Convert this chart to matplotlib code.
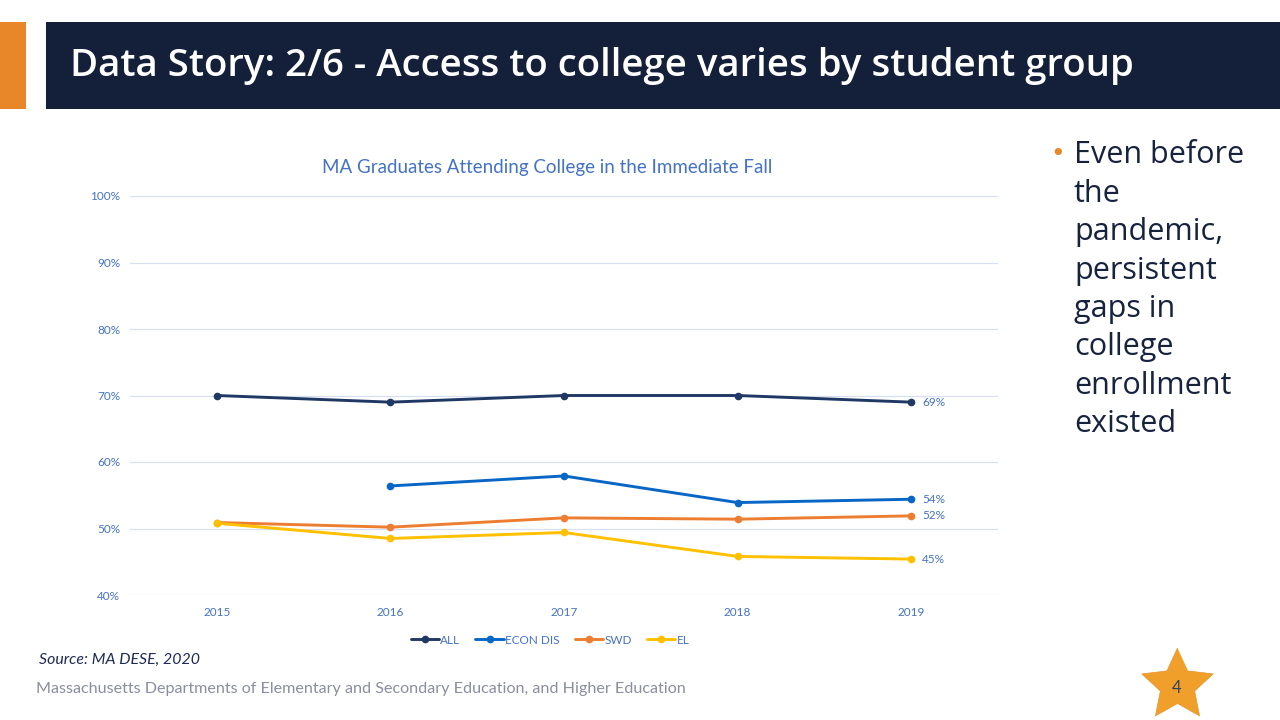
import numpy as np
import matplotlib
matplotlib.use("Agg")
import matplotlib.pyplot as plt
from matplotlib.patches import Rectangle
from matplotlib.lines import Line2D

years = ["2015", "2016", "2017", "2018", "2019"]
series_names = ["ALL", "ECON DIS", "SWD", "EL"]
all_vals = [70.0, 69.0, 70.0, 70.0, 69.0]
econ_vals = [np.nan, 56.4, 57.9, 53.9, 54.4]
swd_vals = [50.9, 50.2, 51.6, 51.4, 51.9]
el_vals = [50.8, 48.5, 49.4, 45.8, 45.4]
end_labels = ["69%", "54%", "52%", "45%"]
y_ticks = [40, 50, 60, 70, 80, 90, 100]

colors = ["#203864", "#0866C6", "#ED7D31", "#FFC000"]
tick_blue = "#4472C4"
grid_col = "#D6E0F0"

plt.rcParams["font.family"] = ["Lato", "DejaVu Sans"]

fig = plt.figure(figsize=(12.8, 7.2), dpi=100)

# header band
fig.add_artist(Rectangle((0, 1 - 109 / 720), 26 / 1280, 87 / 720,
                         transform=fig.transFigure, color="#E8862A", lw=0))
fig.add_artist(Rectangle((46 / 1280, 1 - 109 / 720), 1 - 46 / 1280, 87 / 720,
                         transform=fig.transFigure, color="#141F3A", lw=0))
fig.text(70 / 1280, 1 - 66 / 720, "Data Story: 2/6 - Access to college varies by student group",
         color="white", fontsize=27.6, fontweight="semibold", family="Open Sans",
         va="center", ha="left")

ax = fig.add_axes([130 / 1280, 1 - 595 / 720, (998 - 130) / 1280, (595 - 196) / 720])
x = np.arange(len(years))
for vals, c, name in zip([all_vals, econ_vals, swd_vals, el_vals], colors, series_names):
    ax.plot(x, vals, color=c, lw=2.1, marker="o", markersize=4.5, label=name,
            solid_capstyle="round")

for vals, lab in zip([all_vals, econ_vals, swd_vals, el_vals], end_labels):
    ax.annotate(lab, (x[-1], vals[-1]), xytext=(8, 0), textcoords="offset points",
                va="center", ha="left", fontsize=8.5, color=tick_blue)

ax.set_xlim(-0.5, 4.5)
ax.set_ylim(40, 100)
ax.set_yticks(y_ticks)
ax.set_yticklabels([f"{v}%" for v in y_ticks])
ax.set_xticks(x)
ax.set_xticklabels(years)
ax.tick_params(length=0, labelsize=8.5, labelcolor=tick_blue)
ax.tick_params(axis="y", pad=7)
ax.tick_params(axis="x", pad=9)
ax.grid(axis="y", color=grid_col, lw=0.9)
ax.set_axisbelow(True)
for s in ax.spines.values():
    s.set_visible(False)

fig.text(547 / 1280, 1 - 168 / 720, "MA Graduates Attending College in the Immediate Fall",
         ha="center", va="center", fontsize=13.5, color=tick_blue)

fig.legend(loc="center", bbox_to_anchor=(550 / 1280, 1 - 640 / 720), ncol=4, frameon=False,
           fontsize=8.5, labelcolor=tick_blue, handlelength=2.4, handletextpad=0.1,
           columnspacing=1.3)

# right-side bullet text
fig.text(1050 / 1280, 1 - 154 / 720, "\u2022", color="#E8862A", fontsize=18,
         va="center", ha="left", family="DejaVu Sans")
bullet_lines = ["Even before", "the", "pandemic,", "persistent", "gaps in", "college",
                "enrollment", "existed"]
for i, line in enumerate(bullet_lines):
    fig.text(1074 / 1280, 1 - (155 + i * 38.5) / 720, line, color="#17223D",
             fontsize=22, va="center", ha="left", family="Open Sans")

fig.text(39 / 1280, 1 - 660 / 720, "Source: MA DESE, 2020", color="#1F2A55",
         fontsize=11.4, style="italic", va="center", ha="left")
fig.text(36 / 1280, 1 - 689 / 720,
         "Massachusetts Departments of Elementary and Secondary Education, and Higher Education",
         color="#8A8E9E", fontsize=11.6, va="center", ha="left")

# page number star (fatter five-point star)
ang = np.pi / 2 + np.arange(10) * np.pi / 5
rad = np.where(np.arange(10) % 2 == 0, 1.0, 0.48)
star_verts = list(zip(rad * np.cos(ang), rad * np.sin(ang)))
fig.add_artist(Line2D([1177 / 1280], [1 - 685 / 720], transform=fig.transFigure,
                      marker=star_verts, markersize=54, color="#F0A02A",
                      markeredgecolor="#E8902A", markeredgewidth=0.5))
fig.text(1177 / 1280, 1 - 688 / 720, "4", color="#33405E", fontsize=12,
         ha="center", va="center")

fig.savefig("out.png", dpi=100)
